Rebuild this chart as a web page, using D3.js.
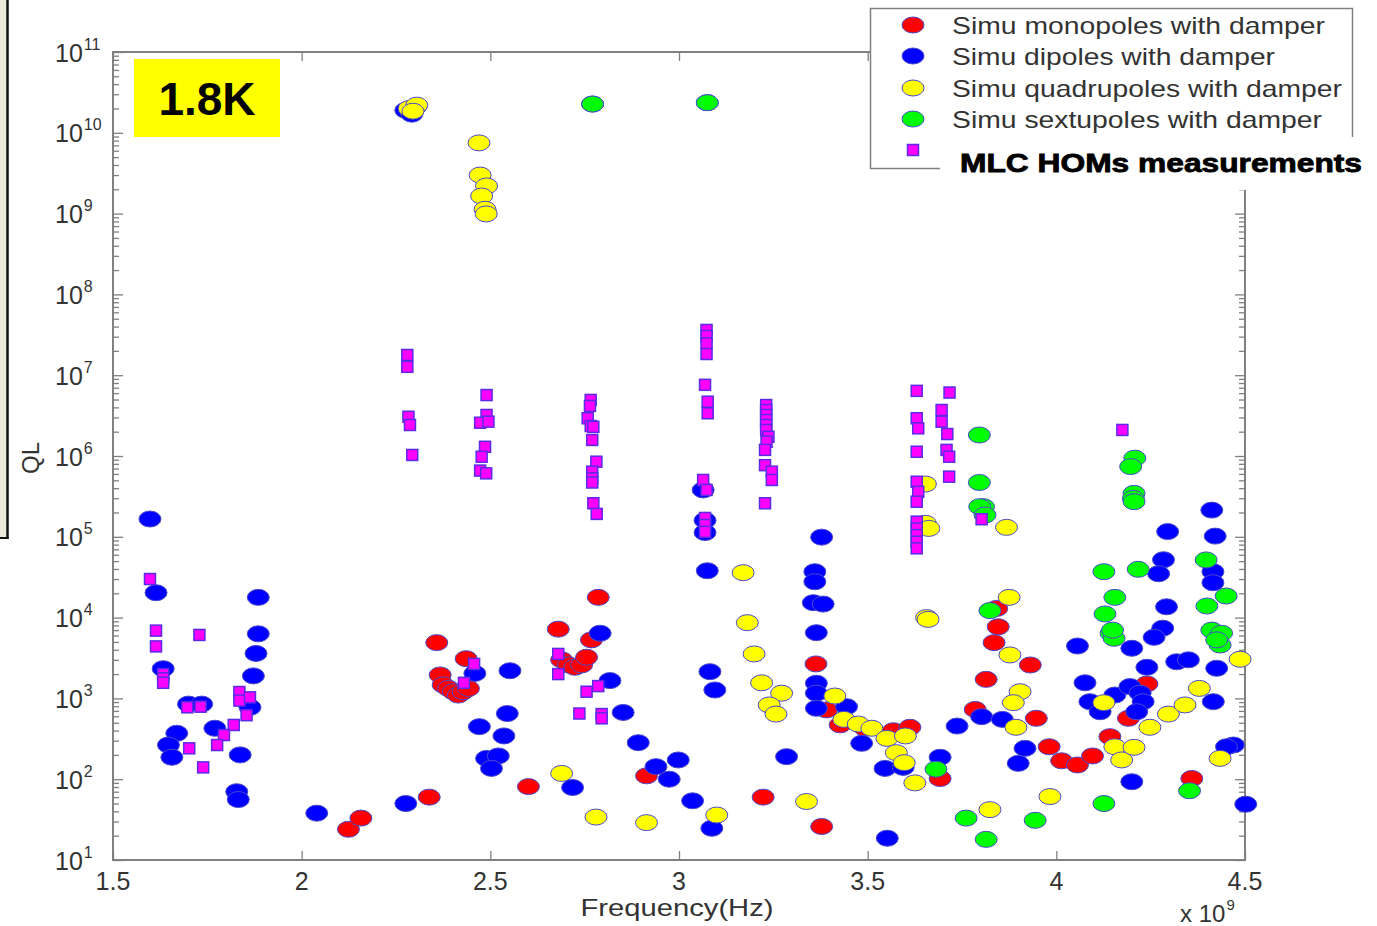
<!DOCTYPE html>
<html>
<head>
<meta charset="utf-8">
<script src="https://cdn.jsdelivr.net/npm/d3@7"></script>
<style>
  body { margin: 0; background: #fff; }
  svg { display: block; }
  text { font-family: "Liberation Sans", Arial, sans-serif; }
</style>
</head>
<body>
<script>
// frequency in units of 1e9 Hz, QL
const monopoles = [
  [2.124, 24], [2.157, 33], [2.338, 60], [2.358, 4900], [2.436, 3100], [2.367, 1950],
  [2.375, 1470], [2.389, 1330], [2.402, 1210], [2.415, 1100], [2.428, 1210], [2.442, 1330],
  [2.601, 81], [2.68, 7200], [2.786, 17800], [2.768, 5300], [2.689, 3000], [2.707, 2600],
  [2.724, 2430], [2.742, 2600], [2.755, 3230], [2.914, 110], [3.363, 2670], [3.391, 720],
  [3.427, 470], [3.493, 427], [3.568, 398], [3.612, 439], [3.692, 102], [3.223, 60],
  [3.378, 26], [3.814, 1720], [3.835, 4900], [3.846, 7700], [3.842, 13000], [3.785, 730],
  [3.931, 2590], [3.947, 567], [3.981, 252], [4.014, 169], [4.056, 150], [4.096, 194],
  [4.142, 336], [4.24, 1510], [4.191, 567], [4.359, 102]
];

const dipoles = [
  [1.598, 166000], [1.614, 20300], [1.633, 2330], [1.70, 850], [1.735, 850], [1.669, 370],
  [1.647, 265], [1.656, 187], [1.77, 427], [1.837, 200], [1.885, 17800], [1.885, 6300],
  [1.879, 3600], [1.872, 1900], [1.863, 776], [1.828, 70], [1.832, 56], [2.04, 38], [2.276, 50],
  [2.276, 1.9e10], [2.302, 2.1e10], [2.292, 1.7e10],
  [2.791, 6400], [2.459, 2040], [2.552, 2200], [2.817, 1660], [2.852, 670], [2.545, 650],
  [2.471, 447], [2.536, 343], [2.49, 181], [2.521, 194], [2.503, 136], [2.892, 283],
  [2.939, 143], [2.998, 173], [2.974, 100], [3.036, 54], [2.718, 79], [3.087, 24.7],
  [3.082, 2140], [3.095, 1270],
  [2.771, 2.27e10], [3.075, 2.36e10],
  [3.064, 380000], [3.069, 160000], [3.069, 113000], [3.075, 38000],
  [3.378, 99000], [3.36, 37000], [3.36, 27800], [3.356, 15300], [3.382, 14700], [3.364, 6500],
  [3.364, 1540], [3.364, 1160], [3.364, 754], [3.444, 790], [3.484, 278], [3.546, 136],
  [3.594, 140], [3.692, 187], [3.285, 190], [3.552, 18.6], [3.737, 455], [3.802, 594],
  [3.857, 550], [3.917, 241], [3.899, 157],
  [4.412, 214000], [4.421, 102000], [4.295, 116000], [4.284, 52000], [4.271, 34900],
  [4.415, 37000], [4.415, 27000], [4.292, 13600], [4.282, 7400], [4.259, 5700], [4.056, 4450],
  [4.2, 4170], [4.24, 2430], [4.319, 2840], [4.35, 3000], [4.425, 2360], [4.076, 1560],
  [4.416, 910], [4.089, 910], [4.116, 684], [4.155, 1100], [4.195, 1400], [4.222, 1160],
  [4.23, 910], [4.213, 684], [4.2, 93], [4.469, 265], [4.451, 252], [4.502, 49]
];

const quadrupoles = [
  [2.285, 2.0e10], [2.305, 2.2e10], [2.295, 1.85e10],
  [2.47, 7.5e9], [2.473, 3.0e9], [2.49, 2.2e9], [2.477, 1.65e9], [2.486, 1.13e9], [2.489, 0.99e9],
  [2.689, 118], [2.78, 34], [2.914, 29], [3.1, 36],
  [3.17, 36000], [3.181, 8650], [3.199, 3550], [3.219, 1560], [3.272, 1160], [3.239, 830],
  [3.257, 640], [3.413, 1070], [3.437, 550], [3.475, 482], [3.511, 427], [3.551, 320],
  [3.6, 343], [3.576, 213], [3.597, 160], [3.625, 90], [3.338, 53], [3.824, 42],
  [3.656, 10000], [3.66, 9500], [3.875, 17800], [3.877, 3450], [3.904, 1210], [3.886, 885],
  [3.893, 439], [3.868, 131000], [3.653, 147000], [3.662, 127000], [3.653, 450000],
  [4.126, 885], [4.155, 252], [4.173, 173], [4.206, 248], [4.248, 439], [4.297, 640],
  [4.341, 830], [4.379, 1330], [4.487, 3050], [4.434, 181], [3.983, 61]
];

const sextupoles = [
  [2.771, 2.27e10], [3.075, 2.36e10],
  [3.824, 12200], [3.681, 133], [3.761, 33], [3.814, 18], [3.944, 31],
  [3.796, 1.82e6], [3.796, 470000], [3.807, 236000], [3.797, 236000], [3.811, 186000],
  [4.208, 940000], [4.197, 740000], [4.206, 345000], [4.204, 299000], [4.206, 272000],
  [4.126, 37000], [4.217, 39600], [4.155, 17800], [4.129, 11100], [4.145, 6400],
  [4.153, 5550], [4.149, 7000],
  [4.397, 51700], [4.399, 13900], [4.45, 18500], [4.412, 7000], [4.438, 6400],
  [4.434, 4580], [4.425, 5300],
  [4.126, 50], [4.353, 72]
];

const measurements = [
  [1.598, 30000], [1.614, 6900], [1.614, 4400], [1.633, 2000], [1.633, 1770], [1.633, 1560],
  [1.729, 6100], [1.697, 776], [1.732, 790], [1.835, 1200], [1.835, 940], [1.863, 1030],
  [1.854, 620], [1.82, 469], [1.794, 352], [1.776, 265], [1.702, 241], [1.739, 140],
  [2.28, 1.78e7], [2.28, 1.27e7], [2.283, 3.06e6], [2.287, 2.42e6], [2.293, 1.03e6],
  [2.49, 5.68e6], [2.49, 3.22e6], [2.473, 2.58e6], [2.495, 2.66e6], [2.486, 1.3e6],
  [2.477, 0.98e6], [2.473, 6.6e5], [2.489, 6.1e5],
  [2.457, 2670], [2.43, 1560],
  [2.766, 4.94e6], [2.764, 4.16e6], [2.758, 2.93e6], [2.766, 2.35e6], [2.773, 2.3e6],
  [2.77, 1.58e6], [2.781, 8.5e5], [2.77, 6.4e5], [2.77, 5.3e5], [2.77, 4.7e5],
  [2.773, 2.6e5], [2.782, 1.92e5],
  [2.68, 3550], [2.68, 2000], [2.755, 1210], [2.786, 1420], [2.736, 650], [2.795, 640], [2.795, 567],
  [3.073, 3.63e7], [3.073, 3.06e7], [3.073, 2.48e7], [3.073, 1.83e7], [3.069, 7.6e6],
  [3.076, 4.7e6], [3.076, 3.38e6], [3.064, 5.05e5], [3.073, 3.8e5], [3.069, 1.71e5],
  [3.069, 1.4e5], [3.069, 1.15e5],
  [3.231, 4.27e6], [3.231, 3.71e6], [3.231, 3.22e6], [3.231, 2.79e6], [3.231, 2.42e6],
  [3.231, 2.1e6], [3.237, 1.73e6], [3.232, 1.5e6], [3.228, 1.19e6], [3.228, 7.7e5],
  [3.246, 6.4e5], [3.246, 5.05e5], [3.228, 2.6e5],
  [3.63, 6.4e6], [3.717, 6.1e6], [3.63, 2.93e6], [3.634, 2.2e6], [3.696, 3.71e6],
  [3.696, 2.66e6], [3.711, 1.87e6], [3.63, 1.13e6], [3.709, 1.19e6], [3.716, 9.8e5],
  [3.716, 5.55e5], [3.63, 4.8e5], [3.634, 3.6e5], [3.63, 2.72e5], [3.63, 1.54e5],
  [3.63, 1.27e5], [3.63, 1.05e5], [3.63, 8.7e4], [3.63, 7.2e4], [3.802, 1.65e5],
  [4.175, 2.1e6]
];

const xTicks = [1.5, 2, 2.5, 3, 3.5, 4, 4.5];
const xTickLabels = ['1.5', '2', '2.5', '3', '3.5', '4', '4.5'];
const yExponents = [1, 2, 3, 4, 5, 6, 7, 8, 9, 10, 11];

const seriesNames = [
  'Simu monopoles with damper',
  'Simu dipoles with damper',
  'Simu quadrupoles with damper',
  'Simu sextupoles with damper'
];
const seriesColors = ['#ff0000', '#0000ff', '#ffff00', '#00ff00'];
const seriesData = [monopoles, dipoles, quadrupoles, sextupoles];

const w = 1377;
const h = 926;

const svg = d3.select('body').append('svg')
  .attr('width', w)
  .attr('height', h);

const xScale = d3.scaleLinear().domain([1.5, 4.5]).range([113, 1245]);
const yScale = d3.scaleLog().domain([1e1, 1e11]).range([860, 52]);

const axisColor = '#808080';
const textColor = '#333';

// left window edge strip
svg.append('rect').attr('x', 0).attr('y', 0).attr('width', 7).attr('height', 538).attr('fill', '#ece9d8');
svg.append('line').attr('x1', 7.5).attr('x2', 7.5).attr('y1', 0).attr('y2', 539)
  .attr('stroke', '#111').attr('stroke-width', 2.5);
svg.append('line').attr('x1', 0).attr('x2', 8.5).attr('y1', 538).attr('y2', 538)
  .attr('stroke', '#111').attr('stroke-width', 2);

// minor tick values (2..9 in every decade)
const minorTicks = [];
yExponents.slice(0, -1).forEach(k => {
  for (let m = 2; m <= 9; m++) minorTicks.push(m * Math.pow(10, k));
});
const majorTicks = yExponents.map(k => Math.pow(10, k));

const [x0, x1] = xScale.range();
const [y0, y1] = yScale.range();

// axes (ticks pointing inward)
const styleAxis = g => {
  g.select('.domain').remove();
  g.selectAll('.tick line').attr('stroke', axisColor).attr('stroke-width', 1.3);
  g.selectAll('.tick text').remove();
};

svg.append('g').attr('transform', `translate(0,${y0})`)
  .call(d3.axisBottom(xScale).tickValues(xTicks).tickSizeInner(-9).tickSizeOuter(0)).call(styleAxis);
svg.append('g').attr('transform', `translate(0,${y1})`)
  .call(d3.axisTop(xScale).tickValues(xTicks).tickSizeInner(-9).tickSizeOuter(0)).call(styleAxis);

svg.append('g').attr('transform', `translate(${x0},0)`)
  .call(d3.axisLeft(yScale).tickValues(majorTicks).tickSizeInner(-10).tickSizeOuter(0)).call(styleAxis);
svg.append('g').attr('transform', `translate(${x0},0)`)
  .call(d3.axisLeft(yScale).tickValues(minorTicks).tickSizeInner(-6).tickSizeOuter(0)).call(styleAxis);
svg.append('g').attr('transform', `translate(${x1},0)`)
  .call(d3.axisRight(yScale).tickValues(majorTicks).tickSizeInner(-10).tickSizeOuter(0)).call(styleAxis);
svg.append('g').attr('transform', `translate(${x1},0)`)
  .call(d3.axisRight(yScale).tickValues(minorTicks).tickSizeInner(-6).tickSizeOuter(0)).call(styleAxis);

// frame
svg.append('rect')
  .attr('x', x0).attr('y', y1)
  .attr('width', x1 - x0).attr('height', y0 - y1)
  .attr('fill', 'none').attr('stroke', axisColor).attr('stroke-width', 2);

// x tick labels
svg.append('g').selectAll('text')
  .data(xTicks)
  .enter().append('text')
  .attr('x', d => xScale(d))
  .attr('y', 890)
  .attr('text-anchor', 'middle')
  .attr('font-size', 25)
  .attr('fill', textColor)
  .text((d, i) => xTickLabels[i]);

// y tick labels 10^k
const yLabels = svg.append('g').selectAll('text')
  .data(yExponents)
  .enter().append('text')
  .attr('x', 55)
  .attr('y', d => yScale(Math.pow(10, d)) + 9.5)
  .attr('fill', textColor);
yLabels.append('tspan').attr('font-size', 25).text('10');
yLabels.append('tspan').attr('font-size', 16).attr('dx', 1).attr('dy', -12).text(d => d);

// axis titles
svg.append('text')
  .attr('x', 677).attr('y', 916)
  .attr('text-anchor', 'middle')
  .attr('font-size', 24)
  .attr('textLength', 193).attr('lengthAdjust', 'spacingAndGlyphs')
  .attr('fill', textColor)
  .text('Frequency(Hz)');

const xExp = svg.append('text').attr('x', 1180).attr('y', 922).attr('fill', textColor);
xExp.append('tspan').attr('font-size', 24).text('x 10');
xExp.append('tspan').attr('font-size', 15).attr('dx', 1).attr('dy', -12).text('9');

svg.append('text')
  .attr('transform', 'translate(39,458) rotate(-90)')
  .attr('text-anchor', 'middle')
  .attr('font-size', 24)
  .attr('fill', textColor)
  .text('QL');

// data points
const rx = 11, ry = 8;
seriesData.forEach((data, i) => {
  svg.append('g').selectAll('ellipse')
    .data(data)
    .enter().append('ellipse')
    .attr('cx', d => xScale(d[0]))
    .attr('cy', d => yScale(d[1]))
    .attr('rx', rx).attr('ry', ry)
    .attr('fill', seriesColors[i])
    .attr('stroke', '#4a4acb')
    .attr('stroke-width', 1);
});

const sq = 11;
svg.append('g').selectAll('rect')
  .data(measurements)
  .enter().append('rect')
  .attr('x', d => xScale(d[0]) - sq / 2)
  .attr('y', d => yScale(d[1]) - sq / 2)
  .attr('width', sq).attr('height', sq)
  .attr('fill', '#ff00ff')
  .attr('stroke', '#5a2ae6')
  .attr('stroke-width', 1.5);

// 1.8K tag
svg.append('rect').attr('x', 134).attr('y', 59).attr('width', 146).attr('height', 78).attr('fill', '#ffff00');
svg.append('text')
  .attr('x', 207).attr('y', 115)
  .attr('text-anchor', 'middle')
  .attr('font-size', 46).attr('font-weight', 'bold')
  .attr('fill', '#000')
  .text('1.8K');

// legend
svg.append('rect')
  .attr('x', 870.5).attr('y', 8.5).attr('width', 482).attr('height', 160)
  .attr('fill', '#fff').attr('stroke', axisColor).attr('stroke-width', 1.5);

const legendY = [25, 56, 88, 119];
const legendLen = [373, 323, 390, 370];
seriesNames.forEach((name, i) => {
  svg.append('ellipse')
    .attr('cx', 913).attr('cy', legendY[i])
    .attr('rx', rx).attr('ry', ry)
    .attr('fill', seriesColors[i])
    .attr('stroke', '#4a4acb').attr('stroke-width', 1);
  svg.append('text')
    .attr('x', 952).attr('y', legendY[i] + 8.5)
    .attr('font-size', 24)
    .attr('textLength', legendLen[i]).attr('lengthAdjust', 'spacingAndGlyphs')
    .attr('fill', textColor)
    .text(name);
});
svg.append('rect')
  .attr('x', 913 - sq / 2).attr('y', 150 - sq / 2)
  .attr('width', sq).attr('height', sq)
  .attr('fill', '#ff00ff').attr('stroke', '#5a2ae6').attr('stroke-width', 1.5);

// overlay label for the measurement entry
svg.append('rect').attr('x', 940).attr('y', 137).attr('width', 437).attr('height', 53).attr('fill', '#fff');
svg.append('text')
  .attr('x', 960).attr('y', 172)
  .attr('font-size', 25).attr('font-weight', 'bold')
  .attr('textLength', 402).attr('lengthAdjust', 'spacingAndGlyphs')
  .attr('stroke', '#000').attr('stroke-width', 0.8)
  .attr('fill', '#000')
  .text('MLC HOMs measurements');
</script>
</body>
</html>
